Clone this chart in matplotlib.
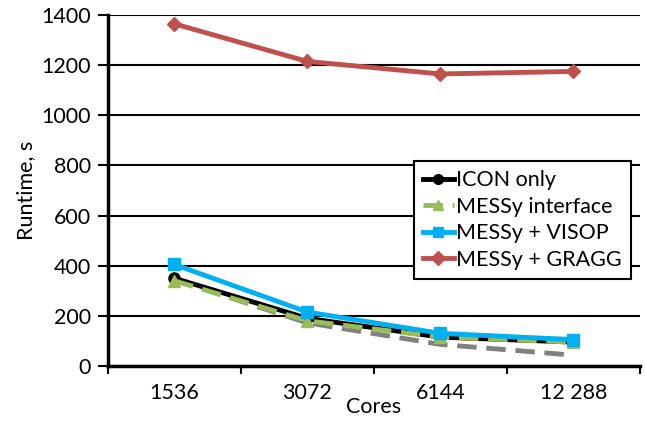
import numpy as np
import matplotlib
matplotlib.use("Agg")
import matplotlib.pyplot as plt
from matplotlib.ticker import FixedLocator, NullFormatter

plt.rcParams["font.family"] = ["Lato", "DejaVu Sans"]

cores = ["1536", "3072", "6144", "12 288"]
icon_only = [350, 190, 115, 95]
messy_iface = [340, 180, 115, 95]
messy_visop = [405, 215, 130, 105]
messy_gragg = [1365, 1215, 1165, 1175]
ideal = [345, 172, 86, 43]

FS = 15.5

fig = plt.figure(figsize=(6.45, 4.3), dpi=100)
ax = fig.add_axes([0.167, 0.149, 0.825, 0.816])
x = np.arange(len(cores))

ax.plot(x, ideal, color="#808080", lw=3.5, ls=(0, (4, 2)), zorder=2)
ax.plot(x, icon_only, color="black", lw=3.5, marker="o", ms=8, label="ICON only", zorder=3)
ax.plot(x, messy_iface, color="#9BBB59", lw=3.5, ls=(0, (4, 2)), marker="^", ms=9,
        label="MESSy interface", zorder=4)
ax.plot(x, messy_visop, color="#00B0F0", lw=3.5, marker="s", ms=8, label="MESSy + VISOP", zorder=5)
ax.plot(x, messy_gragg, color="#C0504D", lw=3.5, marker="D", ms=7, label="MESSy + GRAGG", zorder=5)

ax.set_xlim(-0.5, len(cores) - 0.5)
ax.set_ylim(0, 1400)
ax.set_yticks(range(0, 1401, 200))
ax.yaxis.grid(True, color="black", lw=1.5)
ax.set_axisbelow(True)

# category labels at centers, tick marks at boundaries
ax.xaxis.set_major_locator(FixedLocator(np.arange(-0.5, len(cores), 1.0)))
ax.xaxis.set_major_formatter(NullFormatter())
ax.xaxis.set_minor_locator(FixedLocator(x))
ax.set_xticklabels(cores, minor=True)
ax.tick_params(axis="x", which="major", length=6, width=1.5, direction="out")
ax.tick_params(axis="x", which="minor", length=0, pad=12, labelsize=FS)
ax.tick_params(axis="y", length=7, width=1.5, labelsize=FS, pad=5)

for s in ["top", "right"]:
    ax.spines[s].set_visible(False)
ax.spines["left"].set_linewidth(2.5)
ax.spines["bottom"].set_linewidth(2.5)

ax.set_ylabel("Runtime, s", fontsize=FS, labelpad=4)
ax.set_xlabel("Cores", fontsize=FS, labelpad=-4)

leg = ax.legend(loc="upper left", bbox_to_anchor=(0.575, 0.585), fontsize=FS,
                frameon=True, fancybox=False, framealpha=1, edgecolor="black",
                handlelength=1.4, handletextpad=0.1, borderpad=0.45, labelspacing=0.3,
                borderaxespad=0)
leg.get_frame().set_linewidth(1.5)
for h in leg.legend_handles:
    h.set_markersize(7)

fig.savefig("out.png", dpi=100)
